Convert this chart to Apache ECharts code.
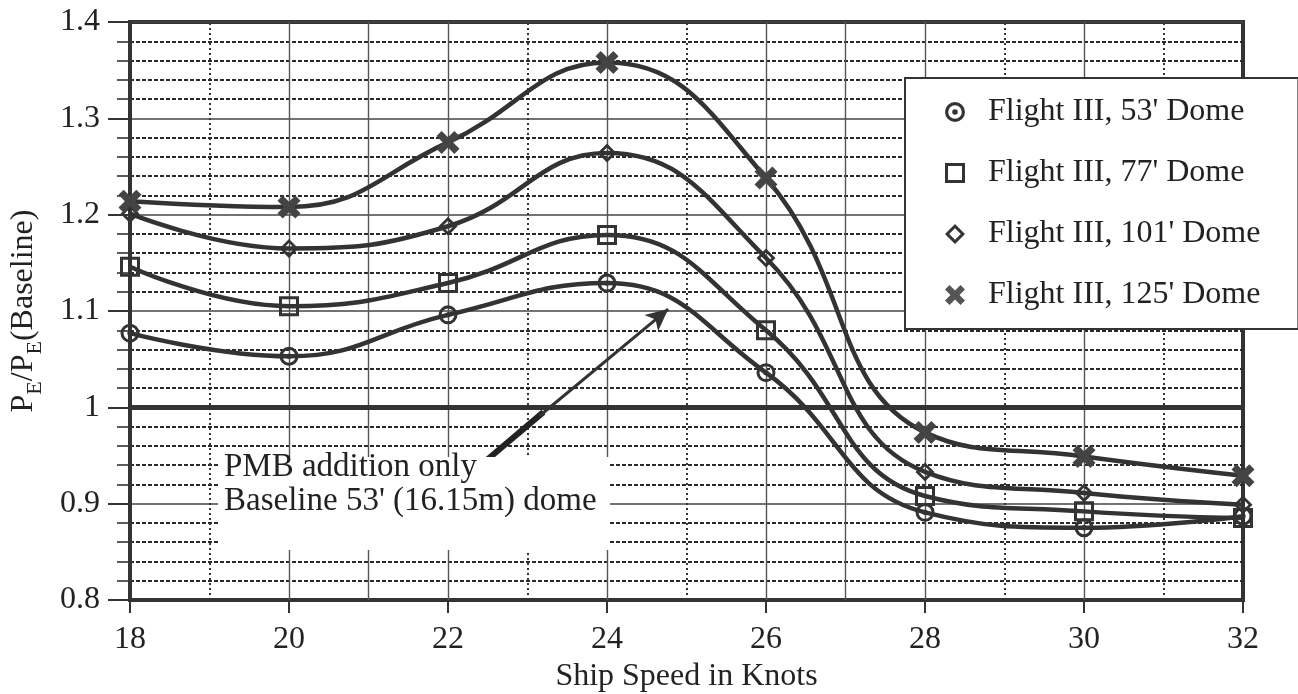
<!DOCTYPE html>
<html>
<head>
<meta charset="utf-8">
<title>Ship speed vs. power ratio</title>
<script src="https://cdn.jsdelivr.net/npm/echarts@6/dist/echarts.min.js"></script>
<style>
  html, body { margin: 0; padding: 0; background: #ffffff; }
  #chart { width: 1298px; height: 694px; }
</style>
</head>
<body>
<div id="chart"></div>
<script>
// Ship speed in knots (x values)
const speeds = [18, 20, 22, 24, 26, 28, 30, 32];

// P_E / P_E(Baseline) for each dome length
const dome53 = [1.077, 1.053, 1.096, 1.129, 1.036, 0.891, 0.875, 0.887];
const dome77 = [1.146, 1.105, 1.129, 1.179, 1.080, 0.908, 0.892, 0.885];
const dome101 = [1.201, 1.165, 1.188, 1.264, 1.155, 0.933, 0.911, 0.899];
const dome125 = [1.214, 1.208, 1.275, 1.358, 1.238, 0.974, 0.949, 0.929];

const seriesNames = [
  "Flight III, 53' Dome",
  "Flight III, 77' Dome",
  "Flight III, 101' Dome",
  "Flight III, 125' Dome"
];

// y tick labels
const yTickLabels = { '0.8': '0.8', '0.9': '0.9', '1': '1', '1.1': '1.1', '1.2': '1.2', '1.3': '1.3', '1.4': '1.4' };

// vertical grid lines: solid and dotted knots
const solidKnots = [20, 21, 22, 24, 26, 27, 28, 30];
const dottedKnots = [19, 23, 25, 29, 31];

// annotation arrow, in data coordinates
const arrowThick = [[22.44, 0.942], [23.2, 0.995]];
const arrowThin = [[23.15, 0.991], [24.77, 1.102]];

// marker shapes
const SYM_CIRCLE = 'path://M0,-10A10,10,0,1,1,0,10A10,10,0,1,1,0,-10ZM0,-6.8A6.8,6.8,0,1,0,0,6.8A6.8,6.8,0,1,0,0,-6.8ZM0,-2.8A2.8,2.8,0,1,1,0,2.8A2.8,2.8,0,1,1,0,-2.8Z';
const SYM_SQUARE = 'path://M-10,-10H10V10H-10ZM-7,-7V7H7V-7Z';
const SYM_DIAMOND = 'path://M0,-10L10,0L0,10L-10,0ZM0,-5.8L-5.8,0L0,5.8L5.8,0Z';
const SYM_CROSS = 'path://M-10,-5.5L-5.5,-10L0,-4.5L5.5,-10L10,-5.5L4.5,0L10,5.5L5.5,10L0,4.5L-5.5,10L-10,5.5L-4.5,0Z';

const INK = '#333333';
const FONT = 'Liberation Serif';

function pairs(ys) {
  return speeds.map((x, i) => [x, ys[i]]);
}

function curve(name, ys, symbol, size, color) {
  return {
    name: name,
    type: 'line',
    smooth: 0.45,
    data: pairs(ys),
    symbol: symbol,
    symbolSize: size,
    showSymbol: true,
    lineStyle: { color: INK, width: 4.5 },
    itemStyle: { color: color },
    z: 5
  };
}

const vLines = solidKnots.map(k => ({
  xAxis: k,
  lineStyle: { type: 'solid', width: 1.4, color: '#555' }
})).concat(dottedKnots.map(k => ({
  xAxis: k,
  lineStyle: { type: [2, 3], width: 2, color: '#333' }
})));

const chart = echarts.init(document.getElementById('chart'));

const option = {
  backgroundColor: '#ffffff',
  animation: false,
  grid: {
    left: 130, right: 55, top: 22, bottom: 94,
    outerBoundsMode: 'none',
    containLabel: false,
    show: true, borderColor: '#333', borderWidth: 4
  },
  xAxis: {
    type: 'value',
    min: 18, max: 32, interval: 2,
    name: 'Ship Speed in Knots',
    nameLocation: 'middle',
    nameGap: 61,
    nameTextStyle: { fontFamily: FONT, fontSize: 32, color: '#222' },
    axisLine: { show: true, lineStyle: { color: '#333', width: 4 } },
    axisTick: { show: true, inside: false, length: 13, lineStyle: { color: '#333', width: 2 } },
    axisLabel: { fontFamily: FONT, fontSize: 32, color: '#222', margin: 24 },
    splitLine: { show: false }
  },
  yAxis: {
    type: 'value',
    min: 0.8, max: 1.4, interval: 0.1,
    name: '{p|P}{s|E}{p|/P}{s|E}{p|(Baseline)}',
    nameLocation: 'middle',
    nameGap: 84,
    nameRotate: 90,
    nameTextStyle: {
      fontFamily: FONT, color: '#222',
      rich: {
        p: { fontFamily: FONT, fontSize: 32, lineHeight: 32, verticalAlign: 'top', color: '#222' },
        s: { fontFamily: FONT, fontSize: 22, verticalAlign: 'bottom', padding: [16, 0, 0, 0], color: '#222' }
      }
    },
    axisLine: { show: true, lineStyle: { color: '#333', width: 4 } },
    axisTick: { show: true, inside: false, length: 22, lineStyle: { color: '#333', width: 2 } },
    minorTick: { show: true, splitNumber: 5, length: 13, lineStyle: { color: '#333', width: 1.6 } },
    axisLabel: {
      fontFamily: FONT, fontSize: 32, color: '#222', margin: 30,
      formatter: v => yTickLabels[String(Math.round(v * 10) / 10)] || ''
    },
    splitLine: { show: true, lineStyle: { color: '#444', width: 1.6, type: 'solid' } },
    minorSplitLine: { show: true, lineStyle: { color: '#2a2a2a', width: 1.8, type: [4, 2] } }
  },
  legend: {
    orient: 'vertical',
    left: 905, top: 78,
    backgroundColor: '#ffffff',
    borderColor: '#333', borderWidth: 2,
    padding: [18, 38, 18, 40],
    itemWidth: 56, itemHeight: 20, itemGap: 29,
    textStyle: { fontFamily: FONT, fontSize: 32, color: '#222' },
    data: [
      { name: seriesNames[0], icon: SYM_CIRCLE, itemStyle: { color: '#333' } },
      { name: seriesNames[1], icon: SYM_SQUARE, itemStyle: { color: '#333' } },
      { name: seriesNames[2], icon: SYM_DIAMOND, itemStyle: { color: '#333' } },
      { name: seriesNames[3], icon: SYM_CROSS, itemStyle: { color: '#555' } }
    ],
    z: 20
  },
  graphic: [
    {
      type: 'rect', left: 218, top: 457, z: 15,
      shape: { width: 392, height: 93 },
      style: { fill: '#ffffff' }
    },
    {
      type: 'text', left: 224, top: 450, z: 16,
      style: {
        text: "PMB addition only\nBaseline 53' (16.15m) dome",
        font: '33px "Liberation Serif"',
        lineHeight: 34,
        fill: '#222'
      }
    }
  ],
  series: [
    Object.assign(curve(seriesNames[0], dome53, SYM_CIRCLE, 19, '#333'), {
      markLine: {
        silent: true, symbol: 'none', label: { show: false }, z: 1,
        data: vLines.concat([
          { yAxis: 1, lineStyle: { type: 'solid', width: 5, color: '#333' } }
        ])
      }
    }),
    curve(seriesNames[1], dome77, SYM_SQUARE, 20, '#333'),
    curve(seriesNames[2], dome101, SYM_DIAMOND, 19, '#333'),
    Object.assign(curve(seriesNames[3], dome125, SYM_CROSS, 23, '#444'), {
      markLine: {
        silent: true, label: { show: false }, z: 6,
        data: [
          [
            { coord: arrowThick[0], symbol: 'none', lineStyle: { type: 'solid', width: 6, color: '#222' } },
            { coord: arrowThick[1], symbol: 'none' }
          ],
          [
            { coord: arrowThin[0], symbol: 'none', lineStyle: { type: 'solid', width: 3, color: '#333' } },
            { coord: arrowThin[1], symbol: 'arrow', symbolSize: [16, 22] }
          ]
        ]
      }
    })
  ]
};

chart.setOption(option);
</script>
</body>
</html>
